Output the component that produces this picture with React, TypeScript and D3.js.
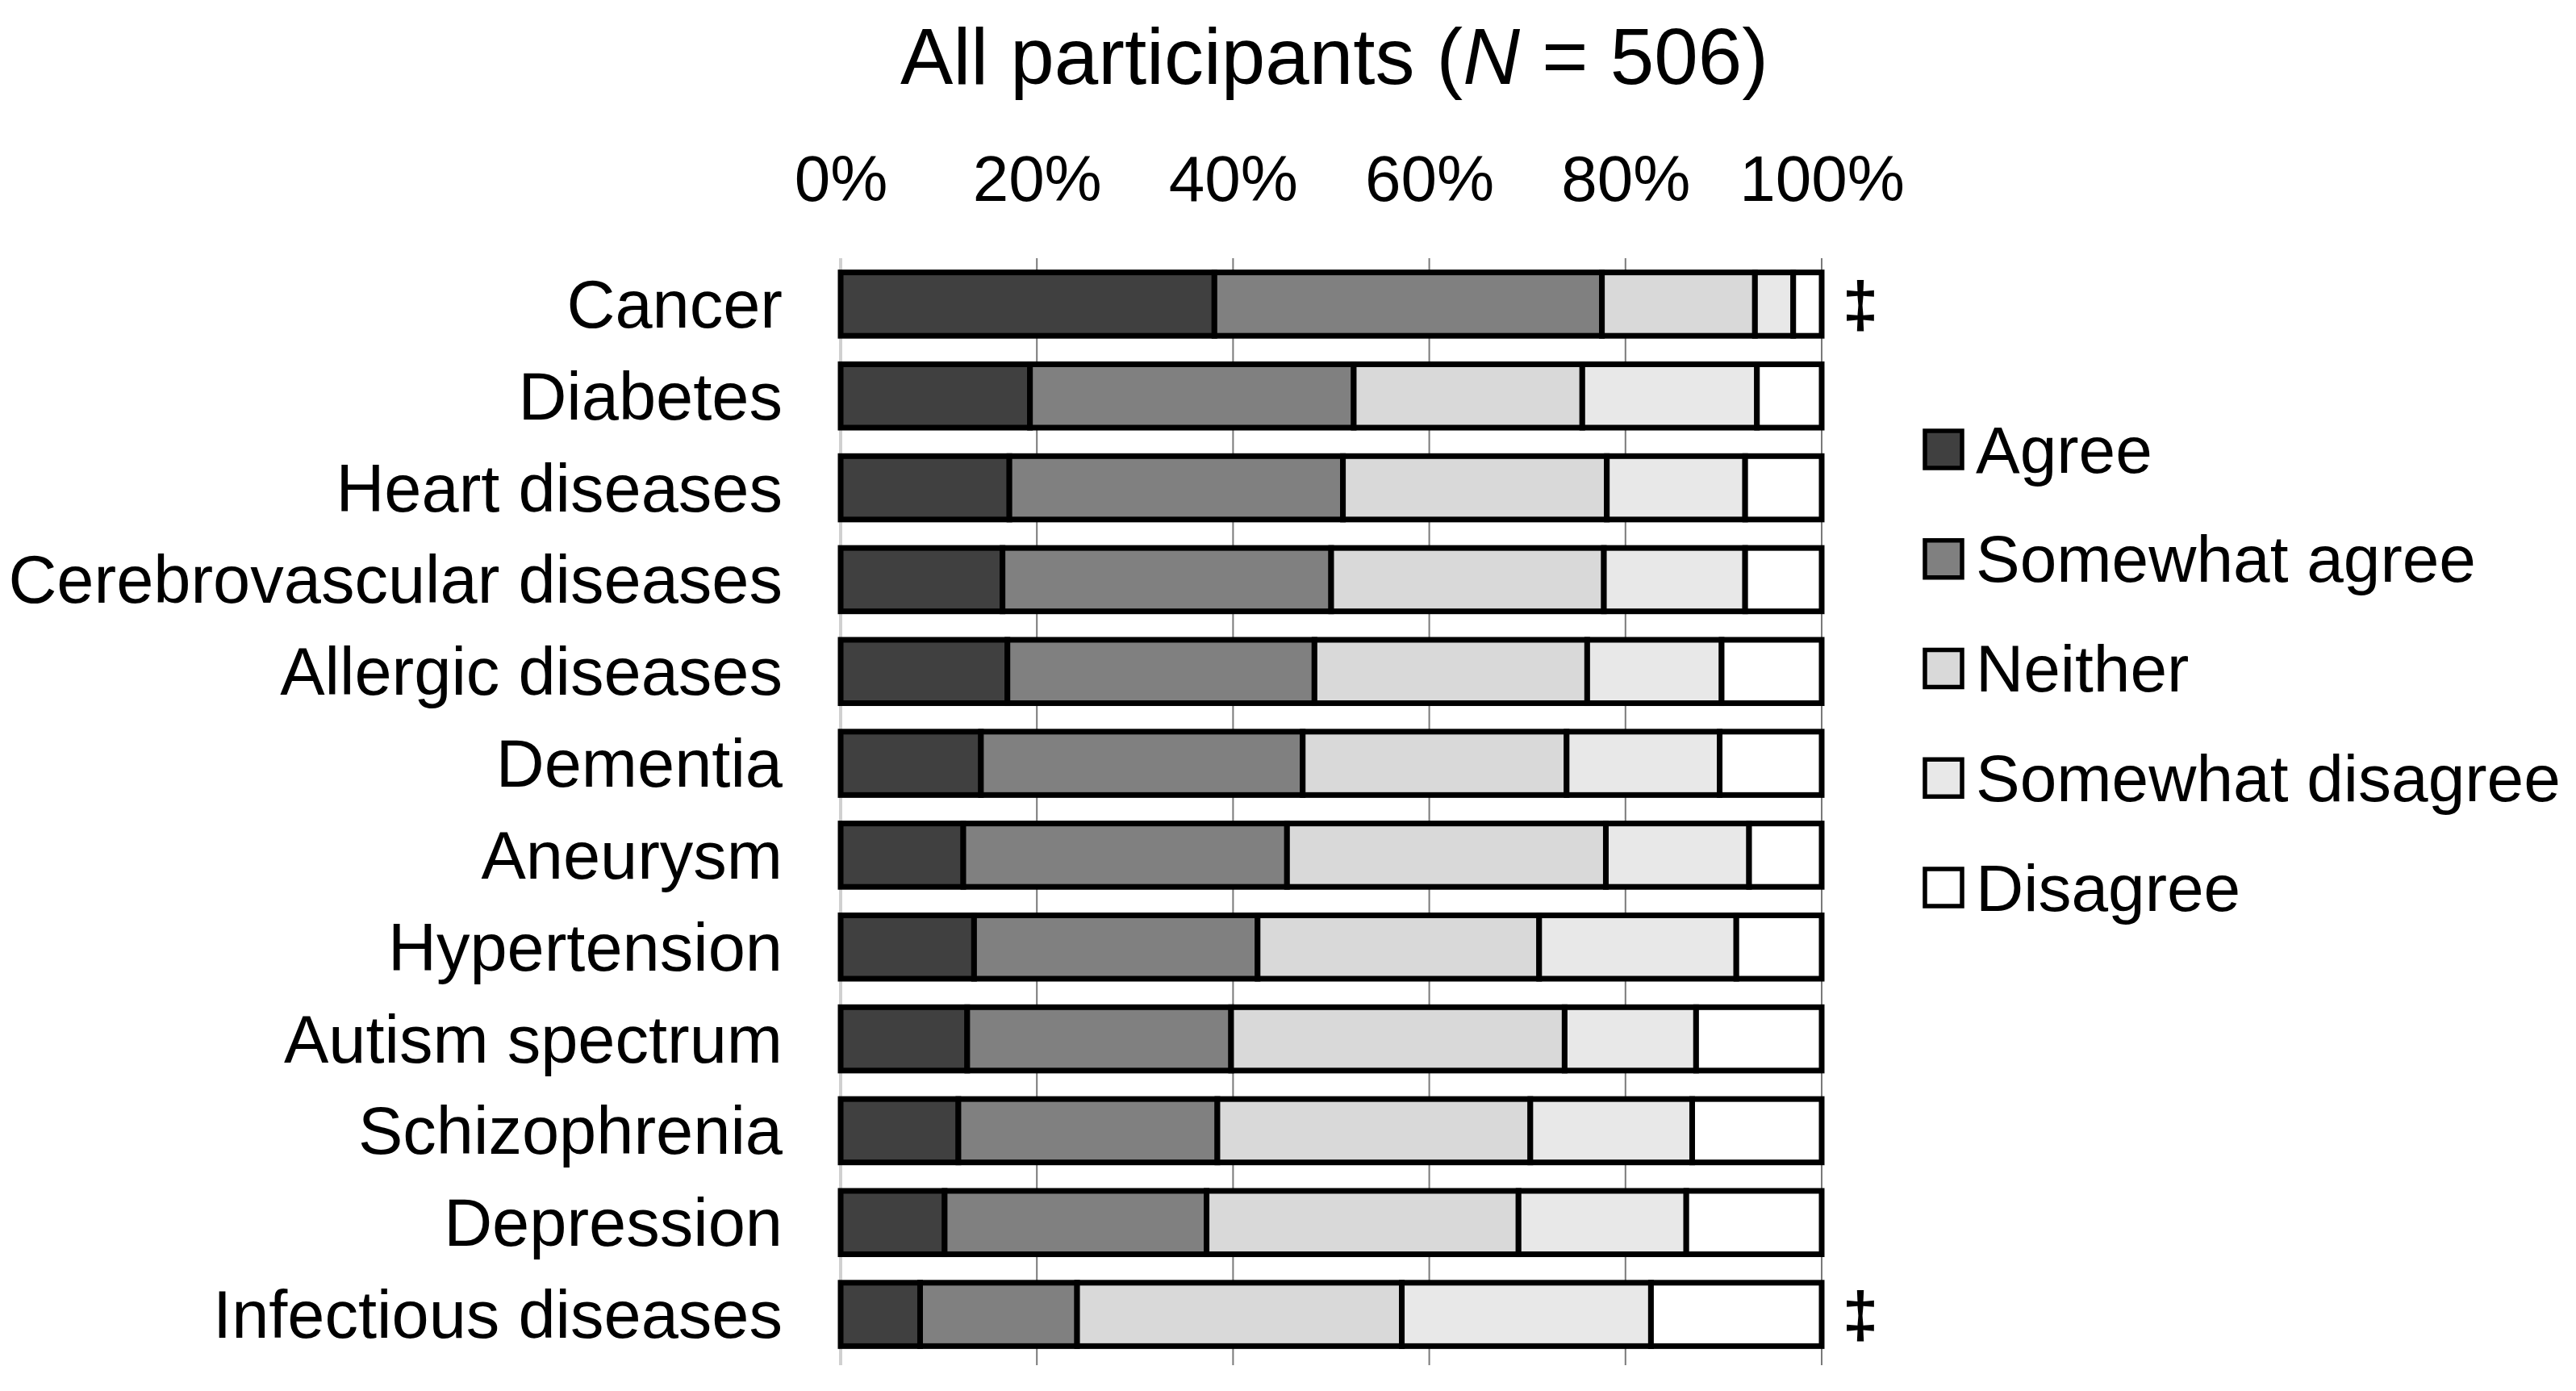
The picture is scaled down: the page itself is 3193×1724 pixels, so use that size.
import React, { useEffect, useRef } from 'react';
import * as d3 from 'd3';

// Survey categories, top to bottom
const categories = [
  'Cancer',
  'Diabetes',
  'Heart diseases',
  'Cerebrovascular diseases',
  'Allergic diseases',
  'Dementia',
  'Aneurysm',
  'Hypertension',
  'Autism spectrum',
  'Schizophrenia',
  'Depression',
  'Infectious diseases',
];

// Percent of respondents per answer
const agree = [38.1, 19.3, 17.2, 16.5, 17.0, 14.3, 12.5, 13.6, 12.9, 12.0, 10.6, 8.1];
const somewhatAgree = [39.5, 33.0, 34.0, 33.5, 31.3, 32.8, 33.0, 28.9, 26.9, 26.4, 26.7, 16.0];
const neither = [15.6, 23.3, 26.9, 27.8, 27.8, 26.9, 32.5, 28.7, 34.0, 31.9, 31.8, 33.1];
const somewhatDisagree = [3.9, 17.8, 14.1, 14.4, 13.7, 15.6, 14.6, 20.1, 13.4, 16.5, 17.1, 25.4];
const disagree = [2.9, 6.6, 7.8, 7.8, 10.2, 10.4, 7.4, 8.7, 12.8, 13.2, 13.8, 17.4];

const answerKeys = ['Agree', 'Somewhat agree', 'Neither', 'Somewhat disagree', 'Disagree'];
const answerColors = ['#404040', '#808080', '#d9d9d9', '#e8e8e8', '#ffffff'];

const xTicks = [0, 20, 40, 60, 80, 100];
const markedRows = ['Cancer', 'Infectious diseases'];

const WIDTH = 3193;
const HEIGHT = 1724;
const FONT = '"Liberation Sans", Arial, Helvetica, sans-serif';

const App: React.FC = () => {
  const svgRef = useRef<SVGSVGElement>(null);

  useEffect(() => {
    if (!svgRef.current) return;
    const svg = d3.select(svgRef.current);
    svg.selectAll('*').remove();

    const table = categories.map((c, i) => ({
      category: c,
      Agree: agree[i],
      'Somewhat agree': somewhatAgree[i],
      Neither: neither[i],
      'Somewhat disagree': somewhatDisagree[i],
      Disagree: disagree[i],
    }));

    const x = d3.scaleLinear().domain([0, 100]).range([1042, 2258]);
    const y = d3.scaleBand<string>()
      .domain(categories)
      .range([320, 1686])
      .paddingInner(0.31)
      .paddingOuter(0.155);
    const color = d3.scaleOrdinal<string, string>().domain(answerKeys).range(answerColors);

    const stacked = d3.stack<any>().keys(answerKeys)(table);

    // Title
    const title = svg.append('text')
      .attr('x', 1654)
      .attr('y', 104)
      .attr('text-anchor', 'middle')
      .attr('font-size', 98)
      .attr('font-family', FONT)
      .attr('fill', '#000');
    title.append('tspan').text('All participants (');
    title.append('tspan').attr('font-style', 'italic').text('N');
    title.append('tspan').text(' = 506)');

    // Grid lines
    svg.append('g')
      .selectAll('line')
      .data(xTicks)
      .enter()
      .append('line')
      .attr('x1', d => x(d))
      .attr('x2', d => x(d))
      .attr('y1', 320)
      .attr('y2', 1692)
      .attr('stroke', d => (d === 0 ? '#d0d0d0' : '#7a7a7a'))
      .attr('stroke-width', d => (d === 0 ? 4 : 2));

    // X axis labels on top
    svg.append('g')
      .attr('transform', 'translate(0,249)')
      .call(
        d3.axisTop(x)
          .tickValues(xTicks)
          .tickSize(0)
          .tickPadding(0)
          .tickFormat(d => `${d}%`)
      )
      .call(g => g.select('.domain').remove())
      .call(g => g.selectAll('.tick text')
        .attr('dy', '0em')
        .attr('font-size', 80)
        .attr('font-family', FONT)
        .attr('fill', '#000'));

    // Stacked bars
    svg.append('g')
      .selectAll('g')
      .data(stacked)
      .enter()
      .append('g')
      .attr('fill', d => color(d.key))
      .selectAll('rect')
      .data(d => d)
      .enter()
      .append('rect')
      .attr('x', d => x(d[0]))
      .attr('y', d => y(d.data.category) as number)
      .attr('width', d => x(d[1]) - x(d[0]))
      .attr('height', y.bandwidth())
      .attr('stroke', '#000')
      .attr('stroke-width', 7);

    // Category labels
    svg.append('g')
      .selectAll('text')
      .data(categories)
      .enter()
      .append('text')
      .attr('x', 970)
      .attr('y', d => (y(d) as number) + y.bandwidth() / 2)
      .attr('dy', '0.35em')
      .attr('text-anchor', 'end')
      .attr('font-size', 83)
      .attr('font-family', FONT)
      .attr('fill', '#000')
      .text(d => d);

    // Significance marks
    svg.append('g')
      .selectAll('text')
      .data(markedRows)
      .enter()
      .append('text')
      .attr('x', 2306)
      .attr('y', d => (y(d) as number) + y.bandwidth() / 2)
      .attr('dy', '0.35em')
      .attr('text-anchor', 'middle')
      .attr('font-size', 80)
      .attr('font-weight', 'bold')
      .attr('font-family', FONT)
      .attr('fill', '#000')
      .text('\u2021');

    // Legend
    const legend = svg.append('g');
    const legendY = d3.scalePoint<string>().domain(answerKeys).range([557, 1100]);
    const items = legend.selectAll('g')
      .data(answerKeys)
      .enter()
      .append('g')
      .attr('transform', d => `translate(2386,${legendY(d)})`);
    items.append('rect')
      .attr('x', 0)
      .attr('y', -23)
      .attr('width', 46)
      .attr('height', 46)
      .attr('fill', d => color(d))
      .attr('stroke', '#000')
      .attr('stroke-width', 5.5);
    items.append('text')
      .attr('x', 63)
      .attr('y', 0)
      .attr('dy', '0.35em')
      .attr('font-size', 82)
      .attr('font-family', FONT)
      .attr('fill', '#000')
      .text(d => d);
  }, []);

  return (
    <div style={{ position: 'absolute', left: 0, top: 0, width: WIDTH, height: HEIGHT, background: '#fff' }}>
      <svg ref={svgRef} width={WIDTH} height={HEIGHT} style={{ display: 'block' }} />
    </div>
  );
};

export default App;
